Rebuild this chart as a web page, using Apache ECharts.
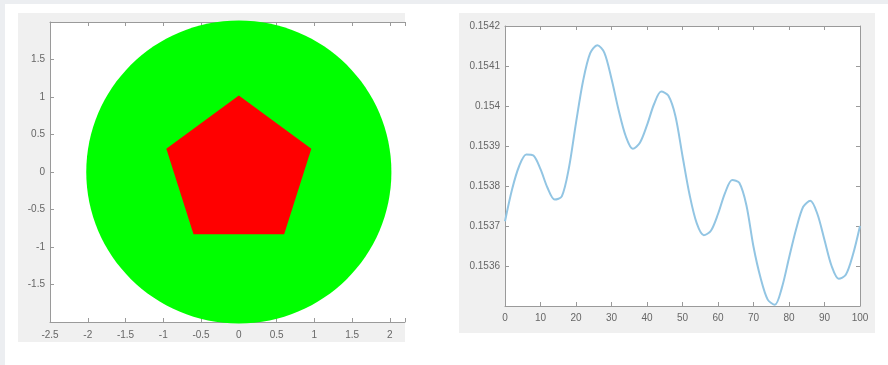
<!DOCTYPE html>
<html><head><meta charset="utf-8">
<script src="https://cdn.jsdelivr.net/npm/echarts@6/dist/echarts.min.js"></script>
<style>
html,body{margin:0;padding:0;background:#fff;}
#wrap{position:relative;width:888px;height:365px;overflow:hidden;background:#fff;}
.bg{position:absolute;}
#c{position:absolute;left:0;top:0;width:888px;height:365px;}
</style>
</head><body>
<div id="wrap">
  <div class="bg" style="left:0;top:0;width:888px;height:4px;background:#eceef1"></div>
  <div class="bg" style="left:0;top:0;width:5px;height:365px;background:#eceef1"></div>
  <div class="bg" style="left:18px;top:13px;width:387px;height:329px;background:#f0f0f0"></div>
  <div class="bg" style="left:459px;top:13px;width:416px;height:320px;background:#f0f0f0"></div>
  <div id="c"></div>
</div>
<script>
// ---- Left panel data ----
const circleCenter = [0, 0];
const circleRadius = 2.02;
const pentagonX = [0, 0.96, 0.6, -0.6, -0.96];
const pentagonY = [1.02, 0.31, -0.83, -0.83, 0.31];
const leftXTicks = [-2.5, -2, -1.5, -1, -0.5, 0, 0.5, 1, 1.5, 2];
const leftYTicks = [-1.5, -1, -0.5, 0, 0.5, 1, 1.5];

// ---- Right panel data ----
const lineX = [0, 2, 4, 6, 8, 10, 12, 14, 16, 18, 20, 22, 24, 26, 28, 30, 32, 34, 36, 38, 40, 42, 44, 46, 48, 50, 52, 54, 56, 58, 60, 62, 64, 66, 68, 70, 72, 74, 76, 78, 80, 82, 84, 86, 88, 90, 92, 94, 96, 98, 100];
const lineY = [0.153712, 0.153792, 0.153850, 0.153879, 0.153876, 0.153842, 0.153795, 0.153766, 0.153774, 0.153845,
               0.153958, 0.154063, 0.154132, 0.154152, 0.154133, 0.154068, 0.153990, 0.153925, 0.153893, 0.153908,
               0.153952, 0.154005, 0.154036, 0.154026, 0.153975, 0.153875, 0.153778, 0.153707, 0.153677, 0.153688,
               0.153730, 0.153783, 0.153815, 0.153808, 0.153752, 0.153648, 0.153570, 0.153516, 0.153503, 0.153546,
               0.153620, 0.153692, 0.153748, 0.153763, 0.153730, 0.153665, 0.153600, 0.153568, 0.153578, 0.153628,
               0.153700];
const rightYTicks = ['0.1536', '0.1537', '0.1538', '0.1539', '0.154', '0.1541', '0.1542'];
const rightXTicks = [0, 10, 20, 30, 40, 50, 60, 70, 80, 90, 100];

const axisColor = '#9a9a9a';
const labelStyle = {color: '#666', fontSize: 10, fontFamily: 'Liberation Sans, Arial, sans-serif'};

function boxAxis(extra) {
  return Object.assign({
    type: 'value',
    axisLine: {show: true, onZero: false, lineStyle: {color: axisColor, width: 1}},
    axisTick: {show: true, inside: true, length: 4, lineStyle: {color: axisColor}},
    splitLine: {show: false},
  }, extra);
}
function near(v, list) { return list.some(t => Math.abs(t - v) < 1e-7); }

const chart = echarts.init(document.getElementById('c'), null, {renderer: 'canvas'});
chart.setOption({
  backgroundColor: 'transparent',
  animation: false,
  grid: [
    {left: 50, top: 22, width: 355, height: 300, show: true, backgroundColor: '#fff', borderWidth: 0},
    {left: 505, top: 26, width: 355, height: 280, show: true, backgroundColor: '#fff', borderWidth: 0}
  ],
  xAxis: [
    boxAxis({gridIndex: 0, position: 'bottom', min: -2.5, max: 2.2, interval: 0.5,
      axisLabel: Object.assign({margin: 8,
        formatter: v => near(v, leftXTicks) ? String(+v.toFixed(1)) : ''}, labelStyle)}),
    boxAxis({gridIndex: 0, position: 'top', min: -2.5, max: 2.2, interval: 0.5, axisLabel: {show: false}}),
    boxAxis({gridIndex: 1, position: 'bottom', min: 0, max: 100, interval: 10,
      axisLabel: Object.assign({margin: 7,
        formatter: v => near(v, rightXTicks) ? String(Math.round(v)) : ''}, labelStyle)}),
    boxAxis({gridIndex: 1, position: 'top', min: 0, max: 100, interval: 10, axisLabel: {show: false}})
  ],
  yAxis: [
    boxAxis({gridIndex: 0, position: 'left', min: -2, max: 2, interval: 0.5,
      axisLabel: Object.assign({margin: 5,
        formatter: v => near(v, leftYTicks) ? String(+v.toFixed(1)) : ''}, labelStyle)}),
    boxAxis({gridIndex: 1, position: 'left', min: 0.1535, max: 0.1542, interval: 0.0001,
      axisLabel: Object.assign({margin: 5,
        formatter: v => { const s = String(+(+v).toFixed(4)); return rightYTicks.indexOf(s) >= 0 ? s : ''; }}, labelStyle)}),
    boxAxis({gridIndex: 1, position: 'right', min: 0.1535, max: 0.1542, interval: 0.0001, axisLabel: {show: false}})
  ],
  series: [
    {
      type: 'custom', xAxisIndex: 0, yAxisIndex: 0, clip: false, z: 1,
      data: [[circleCenter[0], circleCenter[1], circleRadius]],
      renderItem: function (params, api) {
        const c = api.coord([api.value(0), api.value(1)]);
        const s = api.size([api.value(2), api.value(2)]);
        return {type: 'ellipse', shape: {cx: c[0], cy: c[1], rx: s[0], ry: s[1]}, style: {fill: '#00ff00'}};
      }
    },
    {
      type: 'custom', xAxisIndex: 0, yAxisIndex: 0, clip: false, z: 2,
      data: pentagonX.map((x, i) => [x, pentagonY[i]]),
      renderItem: function (params, api) {
        if (params.dataIndex !== 0) return null;
        const pts = pentagonX.map((x, i) => api.coord([x, pentagonY[i]]));
        return {type: 'polygon', shape: {points: pts}, style: {fill: '#ff0000'}};
      }
    },
    {
      type: 'line', xAxisIndex: 2, yAxisIndex: 1, smooth: 0.3, showSymbol: false, clip: false,
      data: lineX.map((x, i) => [x, lineY[i]]),
      lineStyle: {color: '#92c5e3', width: 2}
    }
  ]
});
</script>
</body></html>
